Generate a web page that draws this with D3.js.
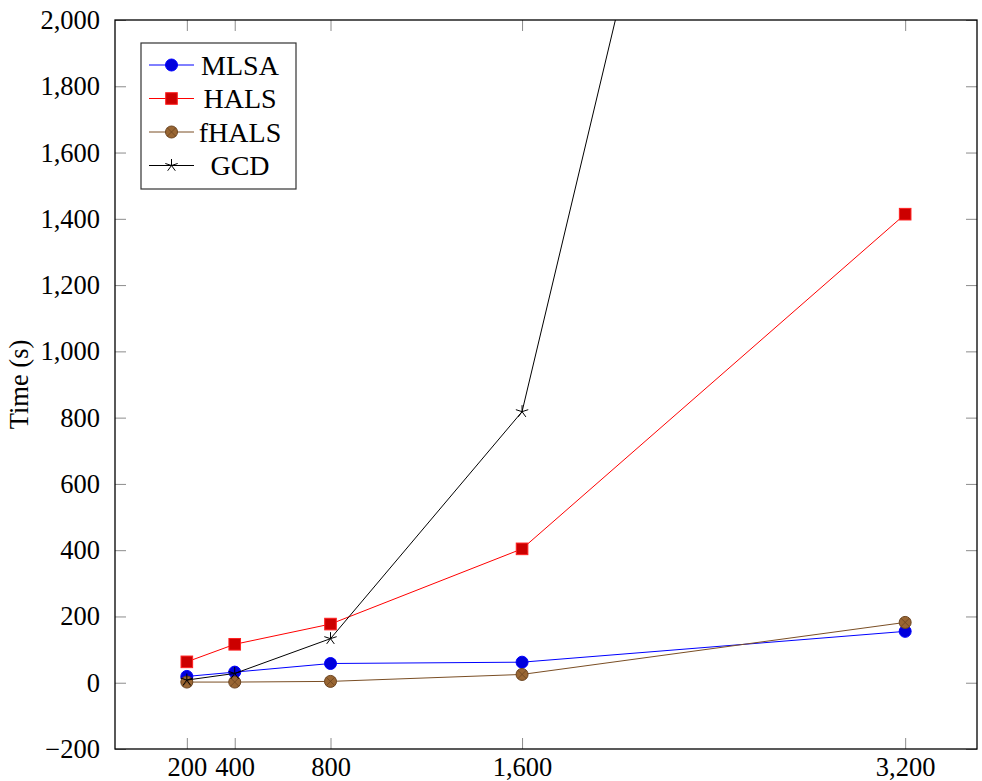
<!DOCTYPE html>
<html>
<head>
<meta charset="utf-8">
<script src="https://cdn.jsdelivr.net/npm/d3@7"></script>
<style>
  body { margin: 0; background: white; }
  svg { display: block; }
  text { font-family: "Liberation Serif", "DejaVu Serif", serif; }
</style>
</head>
<body>
<svg id="chart" width="982" height="781"></svg>
<script>
// data
const sizes = [200, 400, 800, 1600, 3200];
const mlsa = [19, 32, 58, 62, 155];
const hals = [63, 116, 177, 404, 1414];
const fhals = [2, 2, 4, 25, 182];
const gcd = [8, 28, 133, 818, 5670];
const xTickLabels = ["200", "400", "800", "1,600", "3,200"];
const yTicks = [-200, 0, 200, 400, 600, 800, 1000, 1200, 1400, 1600, 1800, 2000];

const series = [
  { name: "MLSA", values: mlsa, line: "#0000ff", fill: "#0000dd", stroke: "#0000ff", mark: "circle" },
  { name: "HALS", values: hals, line: "#ff0000", fill: "#cc0000", stroke: "#ff2020", mark: "square" },
  { name: "fHALS", values: fhals, line: "#7a4e24", fill: "#996633", stroke: "#6b4420", mark: "otimes" },
  { name: "GCD", values: gcd, line: "#000000", fill: "none", stroke: "#000000", mark: "star" },
];

const plot = { left: 115, right: 977, top: 20, bottom: 749 };
const fontSize = 26.5;
const legendFontSize = 28;

const x = d3.scaleLinear().domain([-100, 3500]).range([plot.left, plot.right]);
const y = d3.scaleLinear().domain([-200, 2000]).range([plot.bottom, plot.top]);

const svg = d3.select("#chart");
svg.append("rect").attr("width", 982).attr("height", 781).attr("fill", "white");

const fmt = (d) => (d < 0 ? "\u2212" : "") + d3.format(",")(Math.abs(d));

// axes with inward ticks on all sides
function styleAxis(g) {
  g.select(".domain").remove();
  g.selectAll(".tick line").attr("stroke", "#8c8c8c").attr("stroke-width", 1);
  g.selectAll(".tick text")
    .attr("font-size", fontSize)
    .attr("fill", "#000")
    .attr("font-family", '"Liberation Serif", serif');
}

svg.append("g")
  .attr("transform", `translate(0, ${plot.bottom})`)
  .call(d3.axisBottom(x).tickValues(sizes).tickSize(-11).tickPadding(8)
    .tickFormat((d, i) => xTickLabels[i]))
  .call(styleAxis);

svg.append("g")
  .attr("transform", `translate(0, ${plot.top})`)
  .call(d3.axisTop(x).tickValues(sizes).tickSize(-11).tickFormat(""))
  .call(styleAxis);

svg.append("g")
  .attr("transform", `translate(${plot.left}, 0)`)
  .call(d3.axisLeft(y).tickValues(yTicks).tickSize(-11).tickPadding(15).tickFormat(fmt))
  .call(styleAxis);

svg.append("g")
  .attr("transform", `translate(${plot.right}, 0)`)
  .call(d3.axisRight(y).tickValues(yTicks).tickSize(-11).tickFormat(""))
  .call(styleAxis);

// y label
svg.append("text")
  .attr("transform", `translate(28, ${(plot.top + plot.bottom) / 2}) rotate(-90)`)
  .attr("text-anchor", "middle")
  .attr("font-size", fontSize)
  .text("Time (s)");

// clip for lines
svg.append("clipPath").attr("id", "clip")
  .append("rect")
  .attr("x", plot.left).attr("y", plot.top)
  .attr("width", plot.right - plot.left).attr("height", plot.bottom - plot.top);

const line = d3.line().x((d) => x(d[0])).y((d) => y(d[1]));

function drawMark(g, s, cx, cy) {
  if (s.mark === "circle") {
    g.append("circle").attr("cx", cx).attr("cy", cy).attr("r", 6)
      .attr("fill", s.fill).attr("stroke", s.stroke).attr("stroke-width", 1);
  } else if (s.mark === "square") {
    g.append("rect").attr("x", cx - 5.8).attr("y", cy - 5.8).attr("width", 11.6).attr("height", 11.6)
      .attr("fill", s.fill).attr("stroke", s.stroke).attr("stroke-width", 1);
  } else if (s.mark === "otimes") {
    g.append("circle").attr("cx", cx).attr("cy", cy).attr("r", 6)
      .attr("fill", s.fill).attr("stroke", s.stroke).attr("stroke-width", 1);
    const r = 6 / Math.SQRT2;
    g.append("path")
      .attr("d", `M${cx - r},${cy - r}L${cx + r},${cy + r}M${cx - r},${cy + r}L${cx + r},${cy - r}`)
      .attr("stroke", s.stroke).attr("stroke-width", 0.8);
  } else if (s.mark === "star") {
    let d = "";
    for (let k = 0; k < 5; k++) {
      const a = -Math.PI / 2 + (k * 2 * Math.PI) / 5;
      d += `M${cx},${cy}L${cx + 6.5 * Math.cos(a)},${cy + 6.5 * Math.sin(a)}`;
    }
    g.append("path").attr("d", d).attr("stroke", s.stroke).attr("stroke-width", 1).attr("fill", "none");
  }
}

const lines = svg.append("g").attr("clip-path", "url(#clip)");
series.forEach((s) => {
  const pts = sizes.map((v, i) => [v, s.values[i]]);
  const g = lines.append("g");
  g.append("path").datum(pts).attr("d", line)
    .attr("fill", "none").attr("stroke", s.line).attr("stroke-width", 1);
  pts.forEach((p) => drawMark(g, s, x(p[0]), y(p[1])));
});

// frame
svg.append("rect")
  .attr("x", plot.left).attr("y", plot.top)
  .attr("width", plot.right - plot.left).attr("height", plot.bottom - plot.top)
  .attr("fill", "none").attr("stroke", "#000").attr("stroke-width", 1.3);

// legend
const legend = svg.append("g").attr("transform", "translate(141, 43)");
legend.append("rect").attr("width", 155).attr("height", 146)
  .attr("fill", "white").attr("stroke", "#333").attr("stroke-width", 1.2);
series.forEach((s, i) => {
  const cy = 22 + i * 33.5;
  const g = legend.append("g");
  g.append("line").attr("x1", 8).attr("x2", 53).attr("y1", cy).attr("y2", cy)
    .attr("stroke", s.line).attr("stroke-width", 1);
  drawMark(g, s, 30.5, cy);
  g.append("text").attr("x", 99).attr("y", cy).attr("dy", "0.35em")
    .attr("text-anchor", "middle").attr("font-size", legendFontSize).text(s.name);
});
</script>
</body>
</html>
